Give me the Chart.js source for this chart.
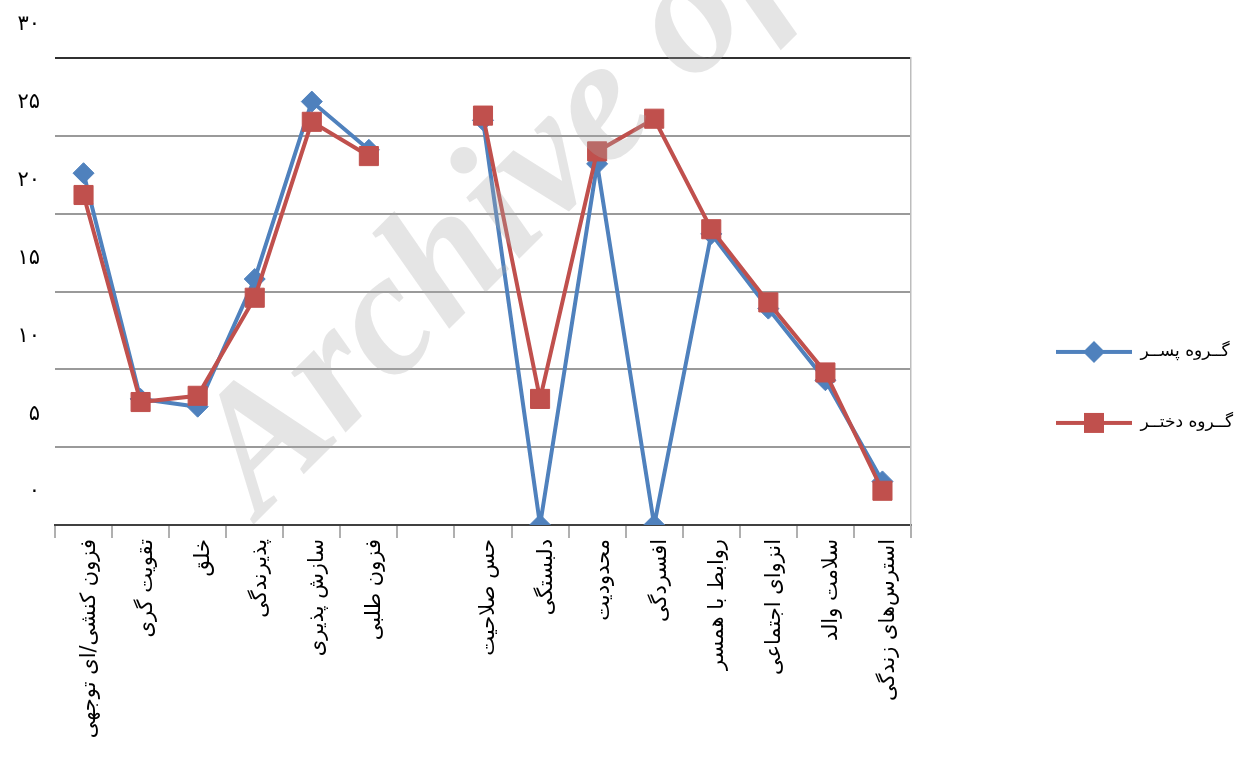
<!DOCTYPE html>
<html lang="fa">
<head>
<meta charset="utf-8">
<script src="https://cdn.jsdelivr.net/npm/chart.js@4.4.1/dist/chart.umd.min.js"></script>
<style>
  html, body { margin: 0; padding: 0; background: #ffffff; }
  #wrap { width: 1245px; height: 774px; position: relative; }
</style>
</head>
<body>
<div id="wrap"><canvas id="chart" width="1245" height="774"></canvas></div>
<script>
// Subscale names (one empty slot separates the two groups of subscales)
const categories = [
  'فزون کنشی/ای توجهی', 'تقویت گری', 'خلق', 'پذیرندگی', 'سازش پذیری', 'فزون طلبی', '',
  'حس صلاحیت', 'دلبستگی', 'محدودیت', 'افسردگی', 'روابط با همسر', 'انزوای اجتماعی',
  'سلامت والد', 'استرس‌های زندگی'
];

// Mean scores per group
const boysValues  = [22.6, 8.1, 7.6, 15.8, 27.2, 24.1, null, 26.0, 0, 23.2, 0, 18.7, 13.9, 9.3, 2.8];
const girlsValues = [21.2, 7.9, 8.3, 14.6, 25.9, 23.7, null, 26.3, 8.1, 24.0, 26.1, 19.0, 14.3, 9.8, 2.2];

// Value-axis labels in Persian digits
const yTickLabels = ['۰', '۵', '۱۰', '۱۵', '۲۰', '۲۵', '۳۰'];

const seriesNames = ['گــروه پســر', 'گــروه دختــر'];
const seriesColors = ['#4F81BD', '#C0504D'];
const markerStyles = ['rectRot', 'rect'];
const markerRadius = [10.5, 13.5];

const labelFont = '"DejaVu Sans", "Noto Sans", sans-serif';

// Legend swatch: a short line with the series marker in its middle
function legendSwatch(color, style) {
  const c = document.createElement('canvas');
  c.width = 76; c.height = 30;
  const g = c.getContext('2d');
  g.strokeStyle = color;
  g.lineWidth = 4;
  g.beginPath(); g.moveTo(0, 15); g.lineTo(76, 15); g.stroke();
  g.fillStyle = color;
  g.beginPath();
  if (style === 'rectRot') {
    g.moveTo(38 - 11, 15); g.lineTo(38, 4); g.lineTo(38 + 11, 15); g.lineTo(38, 26);
  } else {
    g.rect(38 - 10, 5, 20, 20);
  }
  g.closePath(); g.fill();
  return c;
}
const swatches = seriesColors.map((c, i) => legendSwatch(c, markerStyles[i]));

// Faint diagonal watermark laid over the plot
const watermark = {
  id: 'watermark',
  afterDraw(chart) {
    const ctx = chart.ctx;
    ctx.save();
    ctx.translate(260, 518);
    ctx.rotate(-45 * Math.PI / 180);
    ctx.font = 'italic bold 176px "Liberation Serif", "DejaVu Serif", serif';
    ctx.fillStyle = 'rgba(170,170,170,0.3)';
    ctx.textBaseline = 'alphabetic';
    ctx.fillText('Archive of SID', 0, 0);
    ctx.restore();
  }
};

const datasets = [
  {
    label: seriesNames[0],
    data: boysValues,
    borderColor: seriesColors[0],
    backgroundColor: seriesColors[0],
    borderWidth: 4,
    pointStyle: markerStyles[0],
    pointRadius: markerRadius[0],
    pointHoverRadius: markerRadius[0],
    pointBorderWidth: 1,
    tension: 0,
    spanGaps: false,
    order: 2
  },
  {
    label: seriesNames[1],
    data: girlsValues,
    borderColor: seriesColors[1],
    backgroundColor: seriesColors[1],
    borderWidth: 4,
    pointStyle: markerStyles[1],
    pointRadius: markerRadius[1],
    pointHoverRadius: markerRadius[1],
    pointBorderWidth: 1,
    tension: 0,
    spanGaps: false,
    order: 1
  }
];

new Chart(document.getElementById('chart'), {
  type: 'line',
  data: { labels: categories, datasets },
  plugins: [watermark],
  options: {
    responsive: false,
    animation: false,
    devicePixelRatio: 1,
    layout: { padding: { top: 58, left: 10, right: 2, bottom: 0 } },
    plugins: {
      tooltip: { enabled: false },
      legend: {
        position: 'right',
        align: 'start',
        maxWidth: 400,
        title: { display: true, text: '', font: { size: 12 }, padding: { top: 217, bottom: 0 } },
        labels: {
          usePointStyle: true,
          pointStyleWidth: 76,
          padding: 54,
          textAlign: 'left',
          color: '#000000',
          font: { family: labelFont, size: 17 },
          generateLabels(chart) {
            return chart.data.datasets.map((ds, i) => ({
              text: ds.label,
              pointStyle: swatches[i],
              rotation: 0,
              fillStyle: ds.borderColor,
              strokeStyle: ds.borderColor,
              lineWidth: 0,
              fontColor: '#000000',
              hidden: false,
              datasetIndex: i
            }));
          }
        }
      }
    },
    scales: {
      x: {
        type: 'category',
        offset: true,
        afterFit(s) { s.height = 249; },
        grid: {
          offset: true,
          drawOnChartArea: false,
          drawTicks: true,
          tickLength: 13,
          color: '#b0b0b0',
          lineWidth: 2
        },
        border: { display: true, color: '#404040', width: 2 },
        ticks: {
          autoSkip: false,
          minRotation: 90,
          maxRotation: 90,
          padding: 1,
          labelOffset: 6,
          color: '#000000',
          font: { family: labelFont, size: 21 }
        }
      },
      y: {
        min: 0,
        max: 30,
        afterFit(s) { s.width = 45; },
        grid: {
          drawTicks: false,
          color: (ctx) => (ctx.tick && ctx.tick.value === 30 ? '#303030' : '#9a9a9a'),
          lineWidth: 2
        },
        border: { display: false },
        ticks: {
          stepSize: 5,
          padding: 15,
          labelOffset: -33,
          color: '#000000',
          font: { family: labelFont, size: 21 },
          callback: (value) => yTickLabels[Math.round(value / 5)]
        }
      },
      yFrame: {
        position: 'right',
        min: 0,
        max: 30,
        afterFit(s) { s.width = 91; },
        grid: { display: false, drawTicks: false },
        ticks: { display: false },
        border: { display: true, color: '#bdbdbd', width: 1.5 }
      }
    }
  }
});
</script>
</body>
</html>
